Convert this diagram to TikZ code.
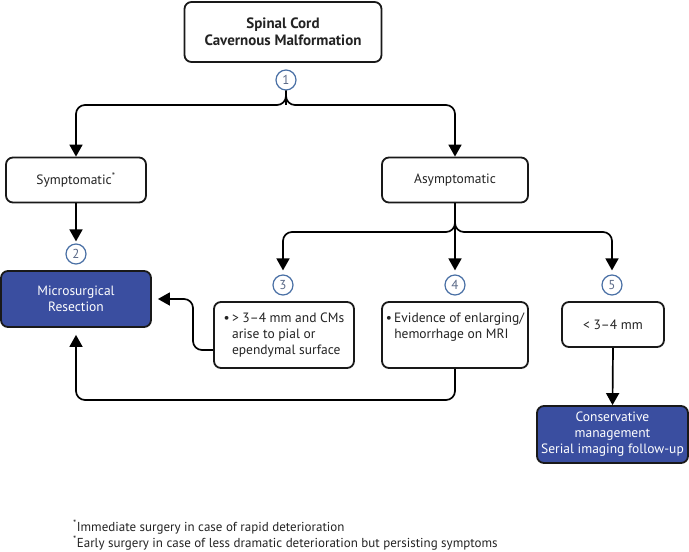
\documentclass[tikz,border=0pt]{standalone}
\usepackage{fontspec}
\setmainfont{PT Sans}
\usetikzlibrary{arrows.meta}
\definecolor{boxblue}{RGB}{58,78,160}
\definecolor{circblue}{RGB}{74,112,165}
\definecolor{numgrey}{RGB}{90,105,135}
\definecolor{txt}{RGB}{35,35,35}
\begin{document}
\begin{tikzpicture}[x=1pt,y=-1pt,
  box/.style={draw=black!90, line width=1.8pt, rounded corners=7pt, fill=white, text=txt, font=\fontsize{13.5}{16}\selectfont, align=center, inner sep=0pt},
  bluebox/.style={box, fill=boxblue, text=white},
  num/.style={circle, draw=circblue, line width=1.2pt, minimum size=20pt, inner sep=0pt, text=numgrey, font=\fontsize{13}{13}\selectfont},
  conn/.style={line width=1.7pt, rounded corners=9pt, -{Triangle[length=12pt,width=13pt]}},
  line/.style={line width=1.7pt, rounded corners=9pt},
  foot/.style={anchor=base west, text=txt, font=\fontsize{13}{15}\selectfont, inner sep=0pt}
]
\useasboundingbox (0,0) rectangle (689,552);

\node[box, minimum width=197pt, minimum height=60pt, font=\fontsize{15}{17}\selectfont\bfseries] (top) at (283,32) {Spinal Cord\\Cavernous Malformation};
\node[num] (c1) at (286,80) {1};

\node[box, minimum width=140pt, minimum height=45pt] (sym) at (76,180) {Symptomatic\textsuperscript{*}};
\node[box, minimum width=146pt, minimum height=45pt] (asym) at (455,180) {Asymptomatic};

\node[num] (c2) at (76,254) {2};
\node[bluebox, minimum width=150pt, minimum height=56pt] (micro) at (76,299) {Microsurgical\\Resection};

\node[num] (c3) at (283,285) {3};
\node[num] (c4) at (455,285) {4};
\node[num] (c5) at (612,285) {5};

\node[box, minimum width=140pt, minimum height=66pt] (b3) at (284,335)
  {\begin{tabular}{@{}l@{\,}l@{}}\textbullet & > 3–4 mm and CMs\\ & arise to pial or\\ & ependymal surface\end{tabular}};
\node[box, minimum width=146pt, minimum height=66pt] (b4) at (455,335)
  {\begin{tabular}{@{}l@{\,}l@{}}\textbullet & Evidence of enlarging/\\ & hemorrhage on MRI\\ & \end{tabular}};
\node[box, minimum width=102pt, minimum height=45pt] (b5) at (613,324.5) {< 3–4 mm};
\node[bluebox, minimum width=151pt, minimum height=57pt] (cons) at (612.5,434.5) {Conservative\\management\\Serial imaging follow-up};

% connectors
\coordinate (s1) at (286,105);
\draw[line] (c1.south) -- (s1);
\draw[conn] (c1.south) -- (s1) -| (sym.north);
\draw[conn] (c1.south) -- (s1) -| (asym.north);
\draw[conn, shorten >=2pt] (sym.south) -- (c2.north);

\coordinate (s2) at (455,232);
\draw[conn, shorten >=4pt] (asym.south) -- (s2) -| (c3.north);
\draw[conn, shorten >=4pt] (asym.south) -- (c4.north);
\draw[conn, shorten >=4pt] (asym.south) -- (s2) -| (c5.north);

\draw[conn] (b5.south) -- (cons.north);

\coordinate (k3) at (193,350);
\draw[conn, shorten >=6pt] (b3.west |- k3) -- (k3) |- (micro.east);
\coordinate (k4) at (455,400);
\draw[conn, shorten >=7pt] (b4.south) -- (k4) -| (micro.south);

% footnotes
\node[foot] (f1) at (73,531) {\textsuperscript{*}Immediate surgery in case of rapid deterioration};
\node[foot] (f2) at (73,547) {\textsuperscript{*}Early surgery in case of less dramatic deterioration but persisting symptoms};
\end{tikzpicture}
\end{document}
